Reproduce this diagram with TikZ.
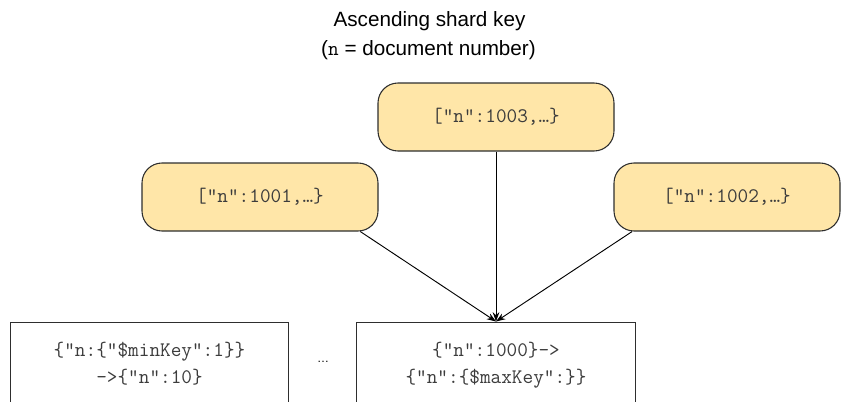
\documentclass[tikz,border=0pt]{standalone}
\usepackage{fontspec}
\setmainfont{Liberation Sans}
\setmonofont{Latin Modern Mono}
\usetikzlibrary{arrows.meta}
\definecolor{docfill}{HTML}{FFE6A8}
\definecolor{codegray}{HTML}{3C3C3C}
\definecolor{edgegray}{HTML}{2E2E2E}

\begin{document}
\begin{tikzpicture}[>={Stealth[length=7pt,width=5pt]}, x=0.75pt, y=-0.75pt,
  doc/.style={draw=edgegray, fill=docfill, rounded corners=15pt, line width=0.8pt,
    minimum height=51pt, font=\fontsize{15.5}{16}\ttfamily\color{codegray}},
  chunk/.style={draw=edgegray, fill=white, line width=0.8pt, minimum width=209pt,
    minimum height=75pt, align=center, anchor=north,
    font=\fontsize{15.5}{20}\ttfamily\color{codegray}}]
  \clip (0,0) rectangle (841,401);
  \useasboundingbox (0,0) rectangle (841,401);

  % title
  \node[font=\fontsize{15.5}{18}\selectfont, anchor=base] (title1) at (429.5,26.7) {Ascending shard key};
  \node[font=\fontsize{15.5}{18}\selectfont, anchor=base] (title2) at (428.5,55) {(\texttt{n} = document number)};

  % incoming documents
  \node[doc, minimum width=177pt] (d1003) at (496,117) {["n":1003,…\}};
  \node[doc, minimum width=177pt] (d1001) at (260,197) {["n":1001,…\}};
  \node[doc, minimum width=169.5pt] (d1002) at (727,197) {["n":1002,…\}};

  % chunks
  \node[chunk, text depth=14pt] (chunkA) at (149.5,321.5)
    {\{"n:\{"\$minKey":1\}\}\\->\{"n":10\}};
  \node[chunk, text depth=14pt] (chunkB) at (496,321.5)
    {\{"n":1000\}->\\\{"n":\{\$maxKey":\}\}};
  \node[font=\fontsize{9}{10}\selectfont] (gap) at (323,362) {…};

  \draw[->, line width=0.7pt] (d1001.-19) -- (chunkB.north);
  \draw[->, line width=0.7pt] (d1003) -- (chunkB.north);
  \draw[->, line width=0.7pt] (d1002.-160) -- (chunkB.north);
\end{tikzpicture}
\end{document}
